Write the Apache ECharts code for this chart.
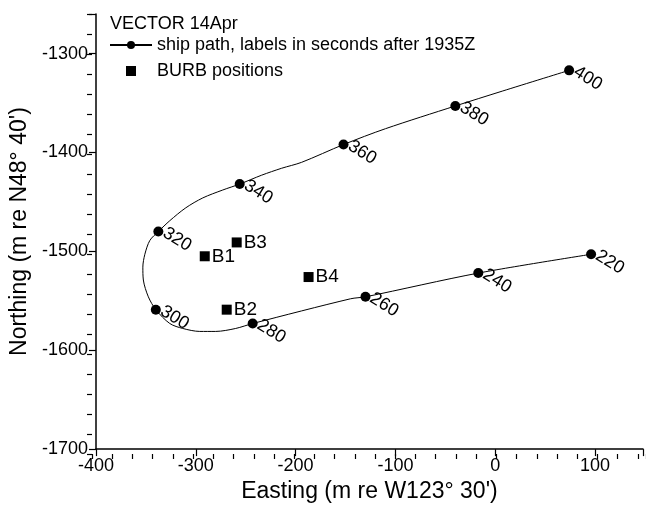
<!DOCTYPE html>
<html><head><meta charset="utf-8">
<script src="https://cdn.jsdelivr.net/npm/echarts@6/dist/echarts.min.js"></script>
<style>html,body{margin:0;padding:0;background:#fff}#c{width:646px;height:508px}</style>
</head><body><div id="c"></div>
<script>
// Ship path samples (easting, northing)
const pathX = [96, -17, -130, -145, -243, -260, -280, -296, -313, -326, -340, -347.5, -352.5, -353, -351, -346, -337.5, -326, -310, -293, -273, -256, -234, -214, -194, -152, -110, -40, 7, 74];
const pathY = [-1503, -1522, -1546, -1548, -1573, -1578, -1581, -1581, -1578, -1573, -1559, -1546, -1529, -1516, -1503, -1489, -1480, -1469, -1456, -1446, -1438, -1432, -1423, -1416, -1410, -1392, -1376, -1353, -1338, -1317];
// Labelled ship positions (seconds after 1935Z)
const dotTimes = [220, 240, 260, 280, 300, 320, 340, 360, 380, 400];
const dotX = [96, -17, -130, -243, -340, -337.5, -256, -152, -40, 74];
const dotY = [-1503, -1522, -1546, -1573, -1559, -1480, -1432, -1392, -1353, -1317];
// BURB positions
const burbNames = ['B1', 'B2', 'B3', 'B4'];
const burbX = [-291, -269, -259, -187];
const burbY = [-1505, -1559, -1491, -1526];
// Axis settings
const xMin = -400, xMax = 148, yMin = -1700, yMax = -1260;
const majorStep = 100, minorStep = 20;

const FONT = "'Liberation Sans', Arial, sans-serif";
const pathName = 'ship path, labels in seconds after 1935Z';
const burbName = 'BURB positions';

const chart = echarts.init(document.getElementById('c'), null, {renderer: 'canvas'});
const gridDef = {left: 92, top: 14, right: 0, bottom: 54, containLabel: false};
const hundreds = v => (Math.round(v) % majorStep === 0 ? String(Math.round(v)) : '');

chart.setOption({
  animation: false,
  backgroundColor: '#fff',
  textStyle: {fontFamily: FONT, color: '#000'},
  title: {
    text: 'VECTOR 14Apr', left: 110, top: 15, padding: 0,
    textStyle: {fontFamily: FONT, fontSize: 18, fontWeight: 'normal', color: '#000'}
  },
  legend: {
    data: [
      {name: pathName},
      {name: burbName, icon: 'path://M0,0 L10,0 L10,10 L0,10 Z'}
    ],
    orient: 'vertical', left: 109, top: 36, padding: 0,
    itemWidth: 42, itemHeight: 10, itemGap: 8, symbolKeepAspect: true,
    textStyle: {fontFamily: FONT, fontSize: 18, color: '#000', lineHeight: 18},
    selectedMode: false
  },
  grid: [gridDef, Object.assign({}, gridDef)],
  xAxis: [{
    type: 'value', gridIndex: 0, min: xMin, max: xMax, interval: majorStep,
    name: "Easting (m re W123\u00b0 30')", nameLocation: 'middle', nameGap: 27,
    nameTextStyle: {fontFamily: FONT, fontSize: 23, color: '#000'},
    axisLine: {show: true, onZero: false, lineStyle: {color: '#000', width: 1.5}},
    axisTick: {show: true, length: 7, lineStyle: {color: '#000', width: 1.2}},
    axisLabel: {fontFamily: FONT, fontSize: 18, color: '#000', margin: 8, formatter: hundreds},
    splitLine: {show: false}
  }, {
    type: 'value', gridIndex: 1, min: xMin, max: xMax, interval: minorStep,
    axisLine: {show: false, onZero: false}, axisLabel: {show: false}, splitLine: {show: false},
    axisTick: {show: true, length: 5, lineStyle: {color: '#000', width: 1.2}}
  }],
  yAxis: [{
    type: 'value', gridIndex: 0, min: yMin, max: yMax, interval: majorStep,
    name: "Northing (m re N48\u00b0 40')", nameLocation: 'middle', nameGap: 59,
    nameTextStyle: {fontFamily: FONT, fontSize: 23, color: '#000'},
    axisLine: {show: true, onZero: false, lineStyle: {color: '#000', width: 1.5}},
    axisTick: {show: true, length: 7, lineStyle: {color: '#000', width: 1.2}},
    axisLabel: {fontFamily: FONT, fontSize: 18, color: '#000', margin: 8, formatter: hundreds},
    splitLine: {show: false}
  }, {
    type: 'value', gridIndex: 1, min: yMin, max: yMax, interval: minorStep,
    axisLine: {show: false, onZero: false}, axisLabel: {show: false}, splitLine: {show: false},
    axisTick: {show: true, length: 5, lineStyle: {color: '#000', width: 1.2}}
  }],
  series: [{
    name: pathName, type: 'line', xAxisIndex: 0, yAxisIndex: 0,
    data: pathX.map((x, i) => [x, pathY[i]]),
    smooth: 0.3, symbol: 'circle', showSymbol: false,
    itemStyle: {color: '#000'}, lineStyle: {color: '#000', width: 1},
    silent: true, z: 2
  }, {
    name: 'ship positions', type: 'scatter', xAxisIndex: 0, yAxisIndex: 0,
    data: dotX.map((x, i) => [x, dotY[i], dotTimes[i]]),
    symbol: 'circle', symbolSize: 10, itemStyle: {color: '#000', opacity: 1},
    label: {
      show: true, position: 'right', distance: 1, rotate: -32,
      align: 'left', verticalAlign: 'middle',
      formatter: p => String(p.value[2]),
      fontFamily: FONT, fontSize: 18, color: '#000'
    },
    silent: true, z: 3
  }, {
    name: burbName, type: 'scatter', xAxisIndex: 0, yAxisIndex: 0,
    data: burbX.map((x, i) => ({name: burbNames[i], value: [x, burbY[i]]})),
    symbol: 'rect', symbolSize: 10, itemStyle: {color: '#000', opacity: 1},
    label: {
      show: true, position: 'right', distance: 2,
      formatter: p => p.name,
      fontFamily: FONT, fontSize: 19, color: '#000'
    },
    silent: true, z: 3
  }]
});
</script>
</body></html>
